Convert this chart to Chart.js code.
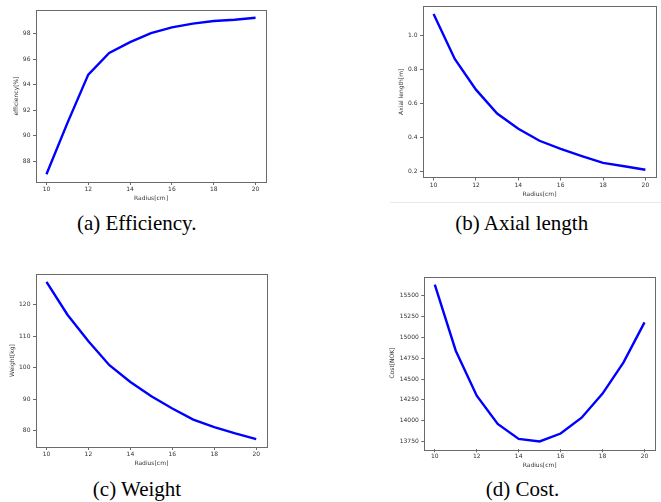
<!DOCTYPE html>
<html>
<head>
<meta charset="utf-8">
<script src="https://cdn.jsdelivr.net/npm/chart.js@4.4.1/dist/chart.umd.min.js"></script>
<style>
  html, body { margin: 0; padding: 0; background: #fff; }
  #page { position: relative; width: 661px; height: 502px; overflow: hidden; }
  #page canvas { position: absolute; }
  .caption {
    position: absolute; width: 200px; text-align: center; white-space: nowrap;
    font: 21px/21px "Liberation Serif", "Times New Roman", serif; color: #000;
  }
  .rule { position: absolute; left: 390px; top: 202px; width: 271px; height: 1px; background: #e8e8e8; }
</style>
</head>
<body>
<div id="page"><div class="rule"></div></div>
<script>
// Four matplotlib-style subplots (efficiency, axial length, weight, cost vs radius),
// each its own Chart.js line chart placed on a fixed page grid.

const RADIUS = [10, 11, 12, 13, 14, 15, 16, 17, 18, 19, 20];
const EFFICIENCY = [87.0, 91.0, 94.8, 96.5, 97.35, 98.05, 98.5, 98.8, 99.0, 99.1, 99.25];
const AXIAL_LENGTH = [1.125, 0.86, 0.68, 0.54, 0.45, 0.38, 0.333, 0.29, 0.25, 0.23, 0.21];
const WEIGHT = [127.2, 116.8, 108.4, 100.8, 95.5, 91.0, 87.1, 83.6, 81.2, 79.2, 77.4];
const COST = [15635, 14840, 14300, 13960, 13780, 13750, 13845, 14035, 14325, 14700, 15180];

const RADIUS_TICKS = [10, 12, 14, 16, 18, 20];
const EFFICIENCY_TICKS = [88, 90, 92, 94, 96, 98];
const AXIAL_TICKS = [0.2, 0.4, 0.6, 0.8, 1.0];
const WEIGHT_TICKS = [80, 90, 100, 110, 120];
const COST_TICKS = [13750, 14000, 14250, 14500, 14750, 15000, 15250, 15500];

const X_TITLE = 'Radius[cm]';
const FONT = { family: '"DejaVu Sans", sans-serif', size: 6, lineHeight: 1.2 };
const TEXT_COLOR = '#333';
const SPINE_COLOR = '#6a6a6a';
const LINE_COLOR = '#0000ff';

// canvas box (page px), plot frame inside it, and where the axis titles sit
const PANELS = [
  {
    values: EFFICIENCY, yTicks: EFFICIENCY_TICKS, yTitle: 'efficiency[%]', decimals: 0,
    caption: '(a) Efficiency.', captionAt: [136.7, 213],
    box: { x: 0, y: 0, w: 280, h: 205 }, frame: { l: 36, r: 266, t: 10, b: 182 },
    yTitleX: 16.7, xTitleY: 198.7
  },
  {
    values: AXIAL_LENGTH, yTicks: AXIAL_TICKS, yTitle: 'Axial length[m]', decimals: 1,
    caption: '(b) Axial length', captionAt: [521.7, 213],
    box: { x: 380, y: 0, w: 281, h: 200 }, frame: { l: 423, r: 656, t: 3, b: 177.5 },
    yTitleX: 401.7, xTitleY: 194.3
  },
  {
    values: WEIGHT, yTicks: WEIGHT_TICKS, yTitle: 'Weight[kg]', decimals: 0,
    caption: '(c) Weight', captionAt: [137, 479],
    box: { x: 0, y: 250, w: 280, h: 225 }, frame: { l: 36, r: 266.7, t: 274, b: 447 },
    yTitleX: 12.5, xTitleY: 463.3
  },
  {
    values: COST, yTicks: COST_TICKS, yTitle: 'Cost[NOK]', decimals: 0,
    caption: '(d) Cost.', captionAt: [522.5, 479],
    box: { x: 380, y: 250, w: 281, h: 225 }, frame: { l: 424.3, r: 655, t: 276.7, b: 449.3 },
    yTitleX: 392.7, xTitleY: 465.7
  }
];

/** Matplotlib's default 5% data margin around a series. */
function paddedRange(values) {
  const lo = Math.min(...values);
  const hi = Math.max(...values);
  const pad = (hi - lo) * 0.05;
  return { min: lo - pad, max: hi + pad };
}

/** All four spines, drawn as a box around the chart area. */
const framePlugin = {
  id: 'mpl-frame',
  afterDraw(chart) {
    const { left, top, right, bottom } = chart.chartArea;
    const ctx = chart.ctx;
    ctx.save();
    ctx.strokeStyle = SPINE_COLOR;
    ctx.lineWidth = 1;
    ctx.strokeRect(Math.round(left) + 0.5, Math.round(top) + 0.5,
      Math.round(right - left), Math.round(bottom - top));
    ctx.restore();
  }
};

function fixedTicks(list) {
  return (scale) => { scale.ticks = list.map((value) => ({ value })); };
}

function renderPanel(page, panel) {
  const { box, frame } = panel;
  const canvas = document.createElement('canvas');
  canvas.width = box.w;
  canvas.height = box.h;
  canvas.style.left = box.x + 'px';
  canvas.style.top = box.y + 'px';
  page.append(canvas);

  const half = FONT.size * FONT.lineHeight / 2;
  const yRange = paddedRange(panel.values);
  const xRange = paddedRange(RADIUS);
  const tickGrid = { drawOnChartArea: false, drawTicks: true, tickLength: 3, color: SPINE_COLOR };

  new Chart(canvas.getContext('2d'), {
    type: 'line',
    data: {
      datasets: [{
        data: RADIUS.map((r, i) => ({ x: r, y: panel.values[i] })),
        borderColor: LINE_COLOR,
        borderWidth: 2.4,
        pointRadius: 0,
        tension: 0,
        fill: false
      }]
    },
    options: {
      responsive: false,
      animation: false,
      events: [],
      layout: {
        padding: { left: 0, top: frame.t - box.y, right: box.x + box.w - frame.r, bottom: 0 }
      },
      plugins: { legend: { display: false }, tooltip: { enabled: false } },
      scales: {
        x: {
          type: 'linear', min: xRange.min, max: xRange.max,
          afterBuildTicks: fixedTicks(RADIUS_TICKS),
          afterFit: (scale) => { scale.height = box.y + box.h - frame.b; },
          grid: tickGrid,
          border: { display: false },
          ticks: { font: FONT, color: TEXT_COLOR, padding: 1, maxRotation: 0 },
          title: {
            display: true, text: X_TITLE, font: FONT, color: TEXT_COLOR,
            padding: { top: 0, bottom: box.y + box.h - half - panel.xTitleY }
          }
        },
        y: {
          type: 'linear', min: yRange.min, max: yRange.max,
          afterBuildTicks: fixedTicks(panel.yTicks),
          afterFit: (scale) => { scale.width = frame.l - box.x; },
          grid: tickGrid,
          border: { display: false },
          ticks: {
            font: FONT, color: TEXT_COLOR, padding: 2.5,
            callback: (value) => Number(value).toFixed(panel.decimals)
          },
          title: {
            display: true, text: panel.yTitle, font: FONT, color: TEXT_COLOR,
            padding: { top: panel.yTitleX - box.x - half, bottom: 0 }
          }
        }
      }
    },
    plugins: [framePlugin]
  });

  const caption = document.createElement('div');
  caption.className = 'caption';
  caption.textContent = panel.caption;
  caption.style.left = (panel.captionAt[0] - 100) + 'px';
  caption.style.top = panel.captionAt[1] + 'px';
  page.append(caption);
}

const page = document.getElementById('page');
PANELS.forEach((panel) => renderPanel(page, panel));
</script>
</body>
</html>
